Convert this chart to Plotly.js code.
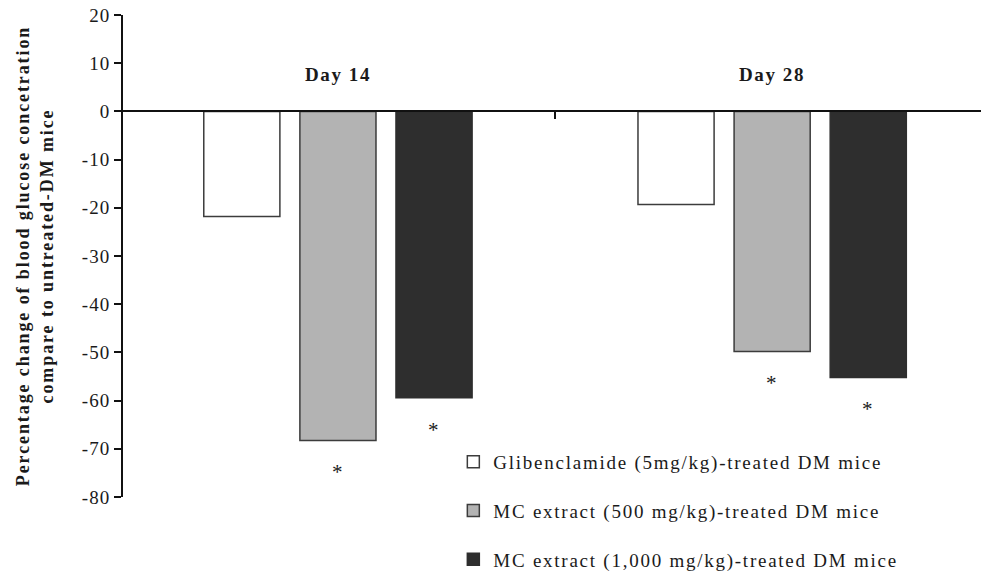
<!DOCTYPE html>
<html>
<head>
<meta charset="utf-8">
<script src="https://cdn.plot.ly/plotly-3.0.1.min.js"></script>
<style>
html,body{margin:0;padding:0;background:#fff;}
#chart{width:981px;height:579px;}
.legendtext{letter-spacing:1.75px;}
.ytitle{letter-spacing:1.9px;}
.ytick text{letter-spacing:1px;}
.annotation-text{letter-spacing:1.6px;}
</style>
</head>
<body>
<div id="chart"></div>
<script>
var categories = ['Day 14', 'Day 28'];
var seriesNames = [
  'Glibenclamide (5mg/kg)-treated DM mice',
  'MC extract (500 mg/kg)-treated DM mice',
  'MC extract (1,000 mg/kg)-treated DM mice'
];
var glibenclamide = [-21.8, -19.3];
var mc500 = [-68.3, -49.8];
var mc1000 = [-59.4, -55.2];
var sigGlibenclamide = [false, false];
var sigMc500 = [true, true];
var sigMc1000 = [true, true];
var yTickVals = [20, 10, 0, -10, -20, -30, -40, -50, -60, -70, -80];
var yTickText = ['20', '10', '0', '-10', '-20', '-30', '-40', '-50', '-60', '-70', '-80'];

var values = [glibenclamide, mc500, mc1000];
var sigs = [sigGlibenclamide, sigMc500, sigMc1000];
var fills = ['#ffffff', '#b3b3b3', '#2e2e2e'];
var lines = ['#3c3c3c', '#3c3c3c', '#2e2e2e'];
var serif = '"Liberation Serif", "Times New Roman", serif';

var traces = values.map(function (v, i) {
  return {
    type: 'bar', x: categories, y: v, name: seriesNames[i],
    legendgroup: 'g' + i,
    marker: {color: fills[i], line: {color: lines[i], width: 1.5}},
    hoverinfo: 'skip'
  };
});

var bargap = 0.336, bargroupgap = 0.208;
var slot = (1 - bargap) / values.length;
var annotations = categories.map(function (c) {
  return {x: c, y: 7.7, xref: 'x', yref: 'y', text: '<b>' + c + '</b>', showarrow: false,
          font: {family: serif, size: 19, color: '#1a1a1a'}};
});
values.forEach(function (v, i) {
  var off = (i - (values.length - 1) / 2) * slot;
  v.forEach(function (val, j) {
    if (sigs[i][j]) {
      annotations.push({x: j + off, y: val - 6.6, xref: 'x', yref: 'y', text: '*', showarrow: false,
        font: {family: serif, size: 21, color: '#1a1a1a'}});
    }
  });
});

var layout = {
  width: 981, height: 579,
  margin: {l: 123, r: 0, t: 15, b: 81, pad: 0},
  paper_bgcolor: '#ffffff', plot_bgcolor: '#ffffff',
  barmode: 'group', bargap: bargap, bargroupgap: bargroupgap,
  font: {family: serif, color: '#1a1a1a'},
  xaxis: {
    type: 'category', range: [-0.495, 1.481],
    anchor: 'free', position: 0.8,
    showline: true, linecolor: '#111', linewidth: 2,
    ticks: 'outside', tickson: 'boundaries', ticklen: 7, tickwidth: 2, tickcolor: '#111',
    showticklabels: false, showgrid: false, zeroline: false, fixedrange: true
  },
  xaxis2: {
    overlaying: 'x', anchor: 'free', position: 0.8, side: 'top',
    range: [-0.495, 1.481], tickmode: 'array', tickvals: [0.5],
    ticks: 'outside', ticklen: 7, tickwidth: 2, tickcolor: '#111',
    showticklabels: false, showgrid: false, zeroline: false, showline: false
  },
  yaxis: {
    range: [-80, 20], tickmode: 'array', tickvals: yTickVals, ticktext: yTickText,
    showline: true, linecolor: '#111', linewidth: 2,
    ticks: 'outside', ticklen: 7, tickwidth: 2, tickcolor: '#111',
    showgrid: false, zeroline: false,
    tickfont: {family: serif, size: 19, color: '#1a1a1a'},
    title: {text: '<b>Percentage change of blood glucose concetration<br>compare to untreated-DM mice</b>',
            font: {family: serif, size: 18, color: '#1a1a1a'}, standoff: 24}
  },
  yaxis2: {
    overlaying: 'y', anchor: 'x', side: 'left',
    range: [-80, 20], tickmode: 'array', tickvals: yTickVals,
    ticks: 'inside', ticklen: 4, tickwidth: 2, tickcolor: '#111',
    showticklabels: false, showgrid: false, zeroline: false, showline: false
  },
  legend: {
    x: 0.385, y: 0.112, xanchor: 'left', yanchor: 'top',
    font: {family: serif, size: 19, color: '#1a1a1a'},
    tracegroupgap: 21, itemwidth: 30, bgcolor: 'rgba(0,0,0,0)'
  },
  showlegend: true,
  annotations: annotations
};

Plotly.newPlot('chart', traces, layout, {staticPlot: true, displayModeBar: false});
</script>
</body>
</html>
